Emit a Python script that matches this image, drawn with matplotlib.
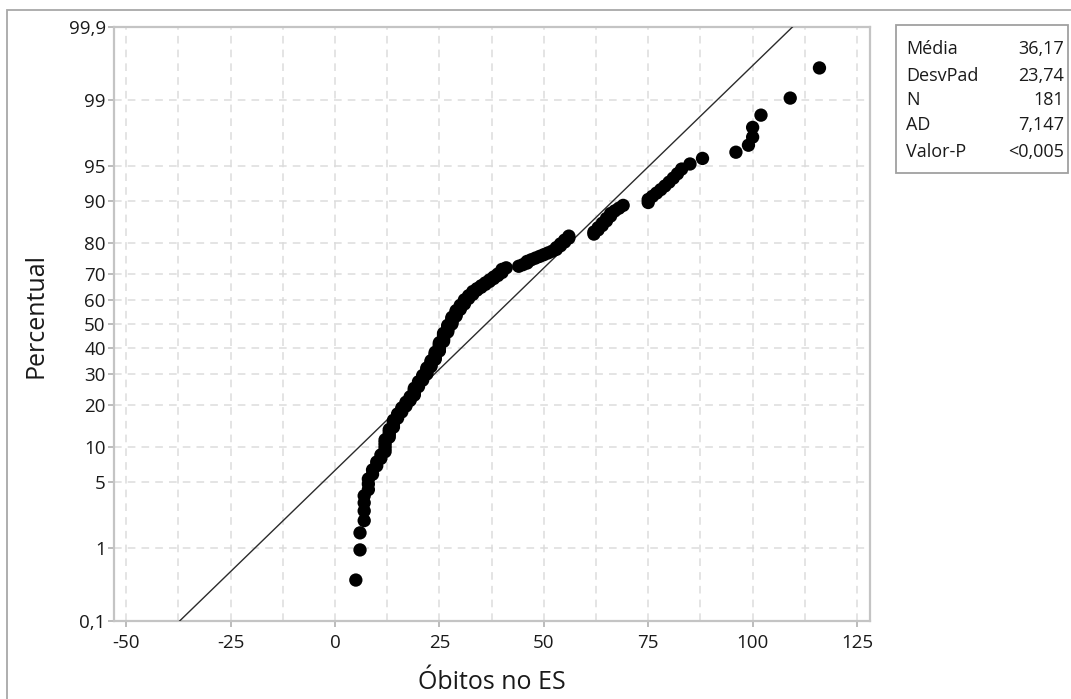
import numpy as np
import matplotlib
matplotlib.use('Agg')
import matplotlib.pyplot as plt
from matplotlib.patches import Rectangle
from matplotlib.ticker import FixedLocator, MultipleLocator
from statistics import NormalDist

plt.rcParams['font.family'] = ['Open Sans', 'DejaVu Sans']

# Óbitos no ES, valores ordenados (N = 181)
obitos = [5, 6, 6, 7, 7, 7, 7, 8, 8, 8, 9, 9, 10, 10, 11, 11,
          12, 12, 12, 12, 12, 13, 13, 13, 13, 14, 14, 14, 14,
          15, 15, 15, 16, 16, 16, 17, 17, 17, 18, 18, 18,
          19, 19, 19, 19, 19, 20, 20, 20, 20, 21, 21, 21, 21,
          22, 22, 22, 22, 22, 23, 23, 23, 23, 23,
          24, 24, 24, 24, 24, 24, 25, 25, 25, 25, 25, 25, 25,
          26, 26, 26, 26, 26, 26, 26, 27, 27, 27, 27, 27, 27,
          28, 28, 28, 28, 28, 28, 29, 29, 29, 29, 29,
          30, 30, 30, 30, 31, 31, 31, 31, 32, 32, 32, 33, 33, 33,
          34, 34, 35, 35, 36, 36, 37, 37, 38, 38, 39, 39, 40, 40, 40, 41,
          44, 45, 46, 46, 47, 48, 49, 50, 51,
          52, 53, 53, 54, 54, 55, 55, 56, 56,
          62, 62, 63, 63, 64, 64, 65, 65, 66, 66, 67, 68, 69,
          75, 75, 76, 77, 78, 79, 80, 81, 82, 83, 85,
          88, 96, 99, 100, 100, 102, 109, 116]

# estatísticas mostradas na caixa
media = 36.17
desvpad = 23.74
stat_nomes = ['Média', 'DesvPad', 'N', 'AD', 'Valor-P']
stat_valores = ['36,17', '23,74', '181', '7,147', '<0,005']

y_ticks = [0.1, 1, 5, 10, 20, 30, 40, 50, 60, 70, 80, 90, 95, 99, 99.9]
y_labels = ['0,1', '1', '5', '10', '20', '30', '40', '50', '60', '70',
            '80', '90', '95', '99', '99,9']
x_ticks = [-50, -25, 0, 25, 50, 75, 100, 125]

# escala de probabilidade normal
nd = NormalDist()
_ppf = np.vectorize(lambda p: nd.inv_cdf(min(max(p / 100.0, 1e-9), 1 - 1e-9)),
                    otypes=[float])
_cdf = np.vectorize(lambda z: nd.cdf(z) * 100.0, otypes=[float])

def forward(p):
    return _ppf(np.asarray(p, dtype=float))

def inverse(z):
    return _cdf(np.asarray(z, dtype=float))

x = np.sort(np.array(obitos, dtype=float))
n = len(x)
ranks = np.arange(1, n + 1)
pct = (ranks - 0.3) / (n + 0.4) * 100  # posições de mediana (Minitab)

W, H = 1071, 699
fig = plt.figure(figsize=(W / 100, H / 100), dpi=100)

def fx(px):
    return px / W

def fy(py):
    return 1 - py / H

ax = fig.add_axes([fx(114), fy(621), fx(870) - fx(114), fy(27) - fy(621)])
ax.set_yscale('function', functions=(forward, inverse))

# linha de ajuste normal
p_line = np.array([0.1, 99.9])
ax.plot(media + desvpad * forward(p_line), p_line, color='#2b2b2b', lw=1.0, zorder=3)

ax.scatter(x, pct, s=92, color='black', edgecolors='none', zorder=4)

ax.set_xlim(-52.9, 128.1)
ax.set_ylim(0.1, 99.9)
ax.yaxis.set_major_locator(FixedLocator(y_ticks))
ax.set_yticklabels(y_labels)
ax.yaxis.set_minor_locator(FixedLocator([]))
ax.set_xticks(x_ticks)
ax.set_xticklabels([str(v) for v in x_ticks])
ax.xaxis.set_minor_locator(MultipleLocator(12.5))

ax.grid(True, which='both', axis='x', color='#dcdcdc', ls=(0, (5, 4)), lw=1.1)
ax.grid(True, which='major', axis='y', color='#dcdcdc', ls=(0, (5, 4)), lw=1.1)
ax.set_axisbelow(True)

for s in ax.spines.values():
    s.set_color('#c4c4c4')
    s.set_linewidth(1.6)
ax.tick_params(axis='both', which='major', length=4, width=1.2, color='#b0b0b0',
               labelsize=13.5, labelcolor='#1a1a1a')
ax.tick_params(axis='x', which='major', pad=5)
ax.tick_params(axis='y', which='major', pad=2)
ax.tick_params(axis='x', which='minor', length=0)

ax.set_xlabel('Óbitos no ES', fontsize=18, color='#1a1a1a', labelpad=13)
ax.set_ylabel('Percentual', fontsize=18, color='#1a1a1a')
ax.yaxis.set_label_coords(-0.086, 0.515)

# moldura externa
fig.patches.append(Rectangle((fx(7), -0.05), 1.2, fy(10) + 0.05,
                             transform=fig.transFigure, fill=False,
                             edgecolor='#a8a8a8', lw=1.3))

# caixa de estatísticas
fig.patches.append(Rectangle((fx(896), fy(173)), fx(1068) - fx(896), fy(25) - fy(173),
                             transform=fig.transFigure, fill=False,
                             edgecolor='#a0a0a0', lw=1.3))
row_y = [49, 76, 100, 125, 152]
for nome, valor, yy in zip(stat_nomes, stat_valores, row_y):
    fig.text(fx(906), fy(yy), nome, fontsize=13, ha='left', va='center', color='#1a1a1a')
    fig.text(fx(1064), fy(yy), valor, fontsize=13, ha='right', va='center', color='#1a1a1a')

fig.savefig('out.png', dpi=100)
